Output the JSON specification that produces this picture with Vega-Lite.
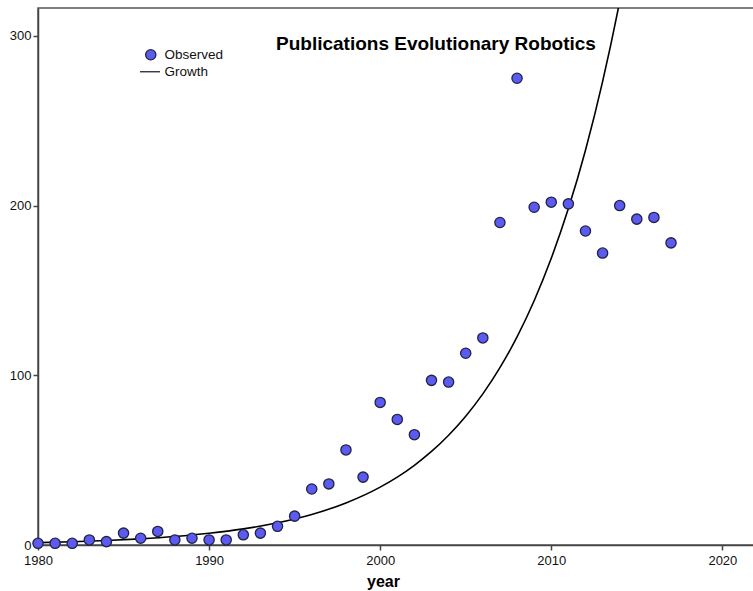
{
  "$schema": "https://vega.github.io/schema/vega-lite/v6.json",
  "width": 716,
  "height": 537,
  "autosize": {"type": "none"},
  "padding": {"left": 38, "top": 8, "right": 0, "bottom": 46},
  "background": "white",
  "config": {
    "font": "Liberation Sans",
    "view": {"stroke": "#555555", "strokeWidth": 1.5},
    "axis": {
      "grid": false,
      "domainColor": "#444444",
      "domainWidth": 1.5,
      "tickColor": "#444444",
      "tickWidth": 1.5,
      "tickSize": 5,
      "labelFont": "Liberation Sans",
      "labelFontSize": 13,
      "labelColor": "#111111",
      "labelPadding": 2,
      "labelFlush": false
    },
    "legend": {
      "symbolStrokeColor": "#222244",
      "symbolStrokeWidth": 1.3
    }
  },
  "title": {
    "text": "Publications Evolutionary Robotics",
    "frame": "group",
    "anchor": "start",
    "orient": "top",
    "offset": 0,
    "baseline": "alphabetic",
    "dx": 238,
    "dy": 61,
    "font": "Liberation Sans",
    "fontSize": 19,
    "fontWeight": "bold",
    "color": "#000000"
  },
  "datasets": {
    "observed": [
      {"year": 1980, "count": 1, "series": "Observed"},
      {"year": 1981, "count": 1, "series": "Observed"},
      {"year": 1982, "count": 1, "series": "Observed"},
      {"year": 1983, "count": 3, "series": "Observed"},
      {"year": 1984, "count": 2, "series": "Observed"},
      {"year": 1985, "count": 7, "series": "Observed"},
      {"year": 1986, "count": 4, "series": "Observed"},
      {"year": 1987, "count": 8, "series": "Observed"},
      {"year": 1988, "count": 3, "series": "Observed"},
      {"year": 1989, "count": 4, "series": "Observed"},
      {"year": 1990, "count": 3, "series": "Observed"},
      {"year": 1991, "count": 3, "series": "Observed"},
      {"year": 1992, "count": 6, "series": "Observed"},
      {"year": 1993, "count": 7, "series": "Observed"},
      {"year": 1994, "count": 11, "series": "Observed"},
      {"year": 1995, "count": 17, "series": "Observed"},
      {"year": 1996, "count": 33, "series": "Observed"},
      {"year": 1997, "count": 36, "series": "Observed"},
      {"year": 1998, "count": 56, "series": "Observed"},
      {"year": 1999, "count": 40, "series": "Observed"},
      {"year": 2000, "count": 84, "series": "Observed"},
      {"year": 2001, "count": 74, "series": "Observed"},
      {"year": 2002, "count": 65, "series": "Observed"},
      {"year": 2003, "count": 97, "series": "Observed"},
      {"year": 2004, "count": 96, "series": "Observed"},
      {"year": 2005, "count": 113, "series": "Observed"},
      {"year": 2006, "count": 122, "series": "Observed"},
      {"year": 2007, "count": 190, "series": "Observed"},
      {"year": 2008, "count": 275, "series": "Observed"},
      {"year": 2009, "count": 199, "series": "Observed"},
      {"year": 2010, "count": 202, "series": "Observed"},
      {"year": 2011, "count": 201, "series": "Observed"},
      {"year": 2012, "count": 185, "series": "Observed"},
      {"year": 2013, "count": 172, "series": "Observed"},
      {"year": 2014, "count": 200, "series": "Observed"},
      {"year": 2015, "count": 192, "series": "Observed"},
      {"year": 2016, "count": 193, "series": "Observed"},
      {"year": 2017, "count": 178, "series": "Observed"}
    ],
    "growth": [
      {"year": 1980, "fit": 1.39},
      {"year": 1982, "fit": 1.91},
      {"year": 1984, "fit": 2.64},
      {"year": 1986, "fit": 3.63},
      {"year": 1988, "fit": 5.0},
      {"year": 1990, "fit": 6.89},
      {"year": 1992, "fit": 9.48},
      {"year": 1994, "fit": 13.06},
      {"year": 1996, "fit": 17.98},
      {"year": 1998, "fit": 24.77},
      {"year": 2000, "fit": 34.1},
      {"year": 2001, "fit": 40.0},
      {"year": 2002, "fit": 46.96},
      {"year": 2003, "fit": 55.11},
      {"year": 2004, "fit": 64.67},
      {"year": 2005, "fit": 75.89},
      {"year": 2006, "fit": 89.06},
      {"year": 2007, "fit": 104.5},
      {"year": 2008, "fit": 122.6},
      {"year": 2009, "fit": 143.9},
      {"year": 2010, "fit": 168.9},
      {"year": 2011, "fit": 198.2},
      {"year": 2012, "fit": 232.6},
      {"year": 2013, "fit": 273.0},
      {"year": 2014, "fit": 320.3},
      {"year": 2015, "fit": 375.9}
    ]
  },
  "layer": [
    {
      "data": {"name": "growth"},
      "mark": {"type": "line", "color": "#000000", "strokeWidth": 1.6, "interpolate": "monotone", "clip": true},
      "encoding": {
        "x": {"field": "year", "type": "quantitative"},
        "y": {"field": "fit", "type": "quantitative"}
      }
    },
    {
      "data": {"name": "observed"},
      "mark": {"type": "point", "filled": true, "size": 105, "opacity": 1, "stroke": "#222244", "strokeWidth": 1.3},
      "encoding": {
        "x": {
          "field": "year",
          "type": "quantitative",
          "scale": {"domain": [1980, 2021.85], "nice": false, "zero": false},
          "axis": {
            "values": [1980, 1990, 2000, 2010, 2020],
            "format": "d",
            "labelPadding": 4,
            "title": "year",
            "titleFont": "Liberation Sans",
            "titleFontSize": 16,
            "titleFontWeight": "bold",
            "titleColor": "#000000",
            "titleX": 345,
            "titleY": 41,
            "titleBaseline": "alphabetic"
          }
        },
        "y": {
          "field": "count",
          "type": "quantitative",
          "scale": {"domain": [0, 316.4], "nice": false},
          "axis": {"values": [0, 100, 200, 300], "title": null}
        },
        "color": {
          "field": "series",
          "type": "nominal",
          "scale": {"domain": ["Observed", "Growth"], "range": ["#5b5bf2", "#000000"]},
          "legend": {
            "title": null,
            "orient": "none",
            "legendX": 106,
            "legendY": 40,
            "symbolSize": 105,
            "labelFontSize": 13.5,
            "labelFont": "Liberation Sans",
            "labelColor": "#111111",
            "rowPadding": 1,
            "labelOffset": 7
          }
        },
        "shape": {
          "field": "series",
          "type": "nominal",
          "scale": {"domain": ["Observed", "Growth"], "range": ["circle", "M-2.1,0H1.8"]},
          "legend": {
            "title": null,
            "orient": "none",
            "legendX": 106,
            "legendY": 40,
            "symbolSize": 105,
            "labelFontSize": 13.5,
            "labelFont": "Liberation Sans",
            "labelColor": "#111111",
            "rowPadding": 1,
            "labelOffset": 7
          }
        }
      }
    }
  ]
}
